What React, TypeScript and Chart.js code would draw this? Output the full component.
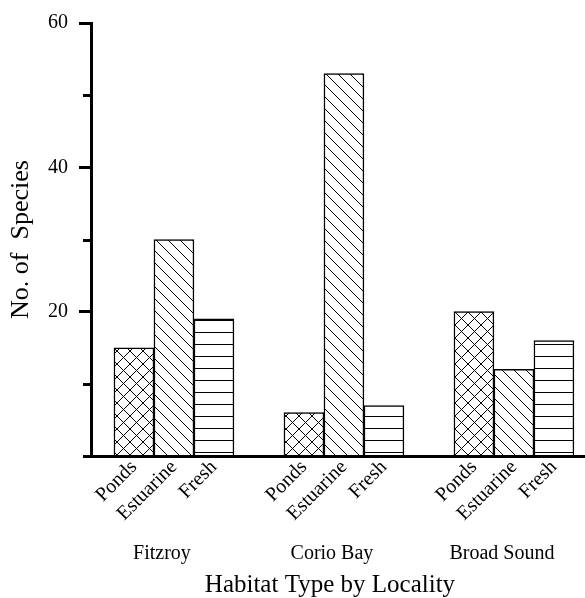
import React, { useEffect, useRef } from 'react';
import { Chart, registerables } from 'chart.js';

Chart.register(...registerables);

// Localities (groups) and habitat types (bars within each group)
const localities = ['Fitzroy', 'Corio Bay', 'Broad Sound'];
const habitats = ['Ponds', 'Estuarine', 'Fresh'];

// Number of species per habitat, one value per locality
const ponds = [15, 6, 20];
const estuarine = [30, 53, 12];
const fresh = [19, 7, 16];

// Y axis: ticks every 10, labels on 20, 40, 60
const yMin = 0;
const yMax = 60;
const yStep = 10;
const yLabelled = [20, 40, 60];

const yTitle = 'No. of  Species';
const xTitle = 'Habitat Type by Locality';

const SERIF = '"Liberation Serif", "Times New Roman", serif';

type TileDraw = (g: CanvasRenderingContext2D, s: number) => void;

function makeTile(size: number, draw: TileDraw): CanvasPattern | string {
  const c = document.createElement('canvas');
  c.width = size;
  c.height = size;
  const g = c.getContext('2d');
  if (!g) return '#fff';
  g.fillStyle = '#fff';
  g.fillRect(0, 0, size, size);
  g.strokeStyle = '#000';
  g.fillStyle = '#000';
  g.lineWidth = 1;
  draw(g, size);
  return g.createPattern(c, 'repeat') || '#fff';
}

const backSlash: TileDraw = (g, s) => {
  g.beginPath();
  for (const k of [-s, 0, s]) {
    g.moveTo(k, 0);
    g.lineTo(k + s, s);
  }
  g.stroke();
};

const forwardSlash: TileDraw = (g, s) => {
  g.beginPath();
  for (const k of [0, s, 2 * s]) {
    g.moveTo(k, 0);
    g.lineTo(k - s, s);
  }
  g.stroke();
};

const labelsPlugin = {
  id: 'habitatLabels',
  beforeDraw(chart: any) {
    const { ctx, width, height } = chart;
    ctx.save();
    ctx.fillStyle = '#fff';
    ctx.fillRect(0, 0, width, height);
    ctx.restore();
  },
  afterDraw(chart: any) {
    const { ctx, chartArea: area } = chart;
    const ys = chart.scales.y;
    const xs = chart.scales.x;
    ctx.save();

    // short unlabelled ticks on the y axis
    ctx.strokeStyle = '#000';
    ctx.lineWidth = 3;
    ys.ticks.forEach((t: any) => {
      if (yLabelled.includes(t.value)) return;
      const py = Math.round(ys.getPixelForValue(t.value)) + 0.5;
      ctx.beginPath();
      ctx.moveTo(area.left - 8, py);
      ctx.lineTo(area.left, py);
      ctx.stroke();
    });

    // slanted habitat names under each bar
    ctx.fillStyle = '#000';
    ctx.font = `20px ${SERIF}`;
    chart.data.datasets.forEach((ds: any, i: number) => {
      const meta = chart.getDatasetMeta(i);
      meta.data.forEach((bar: any) => {
        ctx.save();
        ctx.translate(bar.x, area.bottom + 8);
        ctx.rotate(-Math.PI / 4);
        ctx.textAlign = 'right';
        ctx.textBaseline = 'middle';
        ctx.fillText(ds.label, 0, 0);
        ctx.restore();
      });
    });

    // locality names
    ctx.textAlign = 'center';
    ctx.textBaseline = 'alphabetic';
    localities.forEach((name, j) => {
      ctx.fillText(name, xs.getPixelForValue(j + 1) - 12, area.bottom + 103);
    });

    // axis title
    ctx.font = `25px ${SERIF}`;
    ctx.fillText(xTitle, xs.getPixelForValue(2) - 14, area.bottom + 136);
    ctx.restore();
  },
};

export default function App() {
  const ref = useRef<HTMLCanvasElement>(null);

  useEffect(() => {
    const canvas = ref.current;
    if (!canvas) return;

    const crossHatch = makeTile(13, (g, s) => {
      backSlash(g, s);
      forwardSlash(g, s);
    });
    const diagonal = makeTile(12, backSlash);
    const horizontal = makeTile(12, (g, s) => {
      g.fillRect(0, 8, s, 1);
    });

    const series = [ponds, estuarine, fresh];
    const fills = [crossHatch, diagonal, horizontal];

    const chart = new Chart(canvas, {
      type: 'bar',
      data: {
        datasets: habitats.map((name, i) => ({
          label: name,
          data: series[i].map((v, j) => ({ x: j + 1, y: v })),
          backgroundColor: fills[i] as any,
          borderColor: '#000',
          borderWidth: 1.5,
          barThickness: 40,
        })),
      },
      options: {
        responsive: false,
        devicePixelRatio: 1,
        animation: false,
        events: [],
        layout: { padding: { top: 18, right: 0, bottom: 0, left: 0 } },
        plugins: {
          legend: { display: false },
          tooltip: { enabled: false },
        },
        scales: {
          x: {
            type: 'linear',
            min: 0.512,
            max: 3.418,
            bounds: 'data',
            offset: false,
            grid: { display: false, drawTicks: false },
            ticks: { display: false },
            border: { display: true, color: '#000', width: 3, z: 1 },
            afterFit: (s: any) => {
              s.height = 142;
            },
          },
          y: {
            min: yMin,
            max: yMax,
            afterFit: (s: any) => {
              s.width = 91;
            },
            ticks: {
              stepSize: yStep,
              autoSkip: false,
              padding: 11,
              color: '#000',
              font: { family: SERIF, size: 20 },
              callback: (v: any) => (yLabelled.includes(Number(v)) ? String(v) : ''),
            },
            grid: {
              drawOnChartArea: false,
              drawTicks: true,
              tickLength: 12,
              tickWidth: 3,
              tickColor: (c: any) =>
                c.tick && yLabelled.includes(c.tick.value) ? '#000' : 'rgba(0,0,0,0)',
            },
            border: { display: true, color: '#000', width: 3 },
            title: {
              display: true,
              text: yTitle,
              color: '#000',
              font: { family: SERIF, size: 26 },
              padding: { top: 6, bottom: 0 },
            },
          },
        },
      } as any,
      plugins: [labelsPlugin],
    });

    return () => chart.destroy();
  }, []);

  return (
    <div
      style={{
        position: 'fixed',
        left: 0,
        top: 0,
        width: 585,
        height: 598,
        background: '#fff',
      }}
    >
      <canvas ref={ref} width={585} height={598} style={{ display: 'block' }} />
    </div>
  );
}
